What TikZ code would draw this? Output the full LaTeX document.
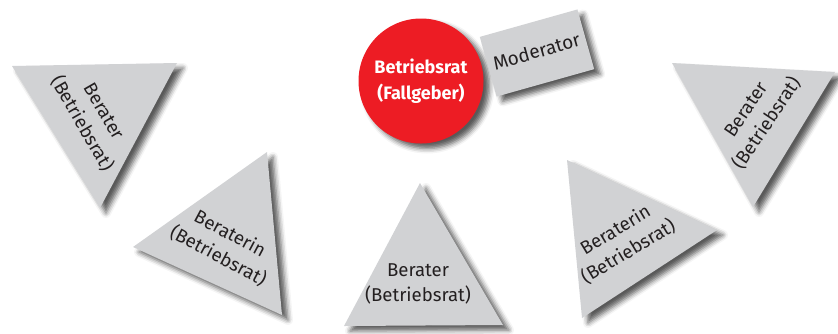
\documentclass[tikz,border=0pt]{standalone}
\usepackage{fontspec}
\setmainfont{Fira Sans}
\usepackage{tikz}
\usetikzlibrary{shadows.blur}
\definecolor{PanelGray}{HTML}{D1D2D4}
\definecolor{CaseRed}{HTML}{ED1C24}
\definecolor{InkGray}{HTML}{231F20}

\begin{document}
\begin{tikzpicture}[x=0.5pt, y=-0.5pt,
        softshadow/.style={blur shadow={shadow xshift=3pt, shadow yshift=-2.5pt, shadow blur radius=2.5pt, shadow opacity=65}},
        tri/.style={fill=PanelGray, softshadow},
        lbl/.style={align=center, text=InkGray, inner sep=0pt, font=\fontsize{9.3}{12.5}\selectfont}]
    \useasboundingbox (0,0) rectangle (838,333);

    % triangles
    \fill[tri] (12,66) -- (177,63) -- (100,208) -- cycle;
    \fill[tri] (267,152) -- (133,247) -- (282,315) -- cycle;
    \fill[tri] (420,183) -- (344,326) -- (503,325) -- cycle;
    \fill[tri] (567,160) -- (717,230) -- (582,318) -- cycle;
    \fill[tri] (672,63) -- (835,72) -- (753,207) -- cycle;

    % labels
    \node[lbl, rotate=-60] (berater1) at (92,118) {Berater\\(Betriebsrat)};
    \node[lbl, rotate=-28] (beraterin1) at (224,245) {Beraterin\\(Betriebsrat)};
    \node[lbl] (berater2) at (418,284) {Berater\\(Betriebsrat)};
    \node[lbl, rotate=31] (beraterin2) at (622,241) {Beraterin\\(Betriebsrat)};
    \node[lbl, rotate=56] (berater3) at (757,117) {Berater\\(Betriebsrat)};

    % case giver and moderator
    \node[circle, fill=CaseRed, minimum size=62.5pt, inner sep=0pt, align=center, text=white,
        font=\bfseries\fontsize{9}{13}\selectfont, softshadow] (fallgeber) at (421,81) {Betriebsrat\\(Fallgeber)};
    \node[rectangle, fill=PanelGray, rotate=15.7, minimum width=50.7pt, minimum height=31pt, inner sep=0pt,
        text=InkGray, font=\fontsize{9.5}{12}\selectfont, softshadow] (moderator) at (537,53) {\raisebox{2pt}{Moderator}};
\end{tikzpicture}
\end{document}
